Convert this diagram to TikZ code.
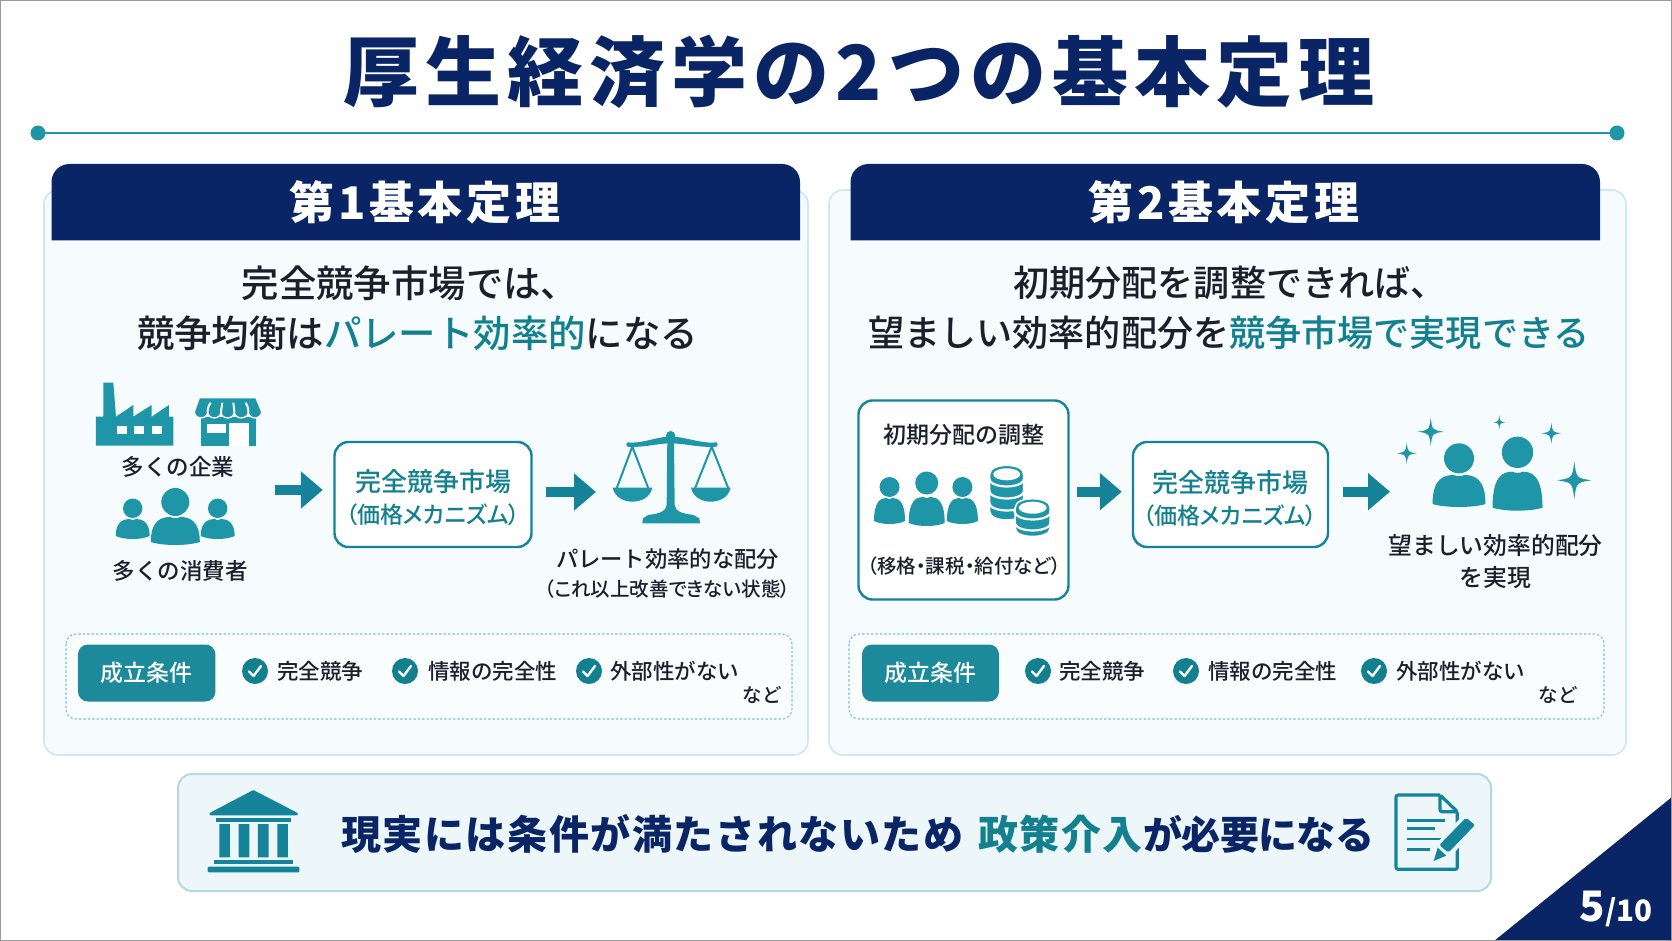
\documentclass[tikz,border=0pt]{standalone}
\usepackage{fontspec}
\usetikzlibrary{arrows.meta,calc}
\setmainfont{Noto Sans CJK JP}
\newfontfamily\jp{Noto Sans CJK JP}
\newfontfamily\jpm{Noto Sans CJK JP Medium}
\definecolor{navy}{HTML}{0A2566}
\definecolor{icon}{HTML}{1E96A8}
\definecolor{hl}{HTML}{12808F}
\definecolor{deep}{HTML}{15849A}
\definecolor{ink}{HTML}{1A1F2B}
\definecolor{panelfill}{HTML}{F6FBFE}
\definecolor{panelline}{HTML}{CFE6F5}
\definecolor{bandfill}{HTML}{EDF7F9}
\definecolor{bandline}{HTML}{B3D9E2}
\definecolor{dashline}{HTML}{7CC3CC}
\definecolor{frameline}{HTML}{9A9A9A}
\newcommand{\fs}[1]{\fontsize{#1}{#1}\selectfont}
\newcommand{\personicon}[6]{%
  \fill[icon] (#1,#2) circle[radius=#3];
  \fill[icon] (#1-#4,#6-3) .. controls (#1-#4,#5+3) and (#1-0.55*#4,#5) .. (#1-0.2*#4,#5)
     .. controls (#1-0.1*#4,#5+1.5) and (#1+0.1*#4,#5+1.5) .. (#1+0.2*#4,#5)
     .. controls (#1+0.55*#4,#5) and (#1+#4,#5+3) .. (#1+#4,#6-3)
     .. controls (#1+0.5*#4,#6+1) and (#1-0.5*#4,#6+1) .. cycle;}
\newcommand{\sparkle}[4]{%
  \fill[icon] (#1,#2-#4) .. controls (#1+0.12*#3,#2-0.12*#4) .. (#1+#3,#2)
     .. controls (#1+0.12*#3,#2+0.12*#4) .. (#1,#2+#4)
     .. controls (#1-0.12*#3,#2+0.12*#4) .. (#1-#3,#2)
     .. controls (#1-0.12*#3,#2-0.12*#4) .. cycle;}
\newcommand{\coinstack}[5]{%
  \filldraw[fill=icon,draw=white,line width=1.5pt] (#1-#3,#2) .. controls (#1-#3,#2-1.33*#4) and (#1+#3,#2-1.33*#4) .. (#1+#3,#2)
     -- (#1+#3,#5) .. controls (#1+#3,#5+1.33*8.5) and (#1-#3,#5+1.33*8.5) .. (#1-#3,#5) -- cycle;
  \fill[white] (#1,#2) ellipse[x radius=#3-3.5,y radius=#4-3];}
\newcommand{\coinline}[4]{%
  \draw[white,line width=2.2pt] (#1-#3-1,#2) .. controls (#1-#3,#2+1.33*#4) and (#1+#3,#2+1.33*#4) .. (#1+#3+1,#2);}
\newcommand{\chkmark}[3]{%
  \node[circle,fill=hl,minimum size=26pt,inner sep=0pt] (#3) at (#1,#2) {};
  \draw[white,line width=2.4pt,line cap=round,line join=round] (#1-6,#2+0.5) -- (#1-1.5,#2+5) -- (#1+6,#2-5);}
\tikzset{
  panel/.style={draw=panelline,line width=1.6pt,fill=panelfill,rounded corners=14pt},
  head/.style={fill=navy},
  headtxt/.style={font=\jp\bfseries\fs{45}\addfontfeature{LetterSpace=8},text=white,inner sep=0pt},
  lead/.style={font=\jpm\fs{37.4},text=ink,inner sep=0pt},
  leadr/.style={font=\jpm\fs{36.1},text=ink,inner sep=0pt},
  lab/.style={font=\jpm\fs{22.5},text=ink,inner sep=0pt},
  cond/.style={font=\jpm\fs{21.5},text=ink,inner sep=0pt,anchor=west},
  box/.style={draw=deep,line width=2.4pt,fill=white,rounded corners=14pt,inner sep=0pt},
  mk/.style={font=\jpm\fs{26},text=hl,inner sep=0pt},
  mks/.style={font=\jpm\fs{23}\addfontfeature{RawFeature=+palt},text=hl,inner sep=0pt},
  blockarrow/.style={draw=deep,line width=10pt,line cap=butt,-{Triangle[length=22pt,width=36pt]}},
  dashbox/.style={draw=dashline,line width=1.1pt,dash pattern=on 2.4pt off 2pt,fill=white,fill opacity=0.55,rounded corners=10pt},
  badge/.style={fill=icon!92!black,rounded corners=10pt,inner sep=0pt,text=white,font=\jpm\fs{23}},
}
\begin{document}
\begin{tikzpicture}[x=1pt,y=-1pt]
\useasboundingbox (0,0) rectangle (1672,941);
\fill[white] (0,0) rectangle (1672,941);
% corner
\fill[navy] (1494,941) -- (1672,797) -- (1672,941) -- cycle;
\draw[frameline,line width=1.5pt] (0.7,0.7) rectangle (1671.3,940.3);
% title
\node[font=\jp\bfseries\fs{76}\addfontfeature{LetterSpace=8},text=navy,inner sep=0pt] (title) at (859,72) {厚生経済学の2つの基本定理};
\coordinate (ruleL) at (38,133);
\coordinate (ruleR) at (1617,133);
\draw[icon,line width=2.2pt] (ruleL) -- (ruleR);
\fill[icon] (ruleL) circle[radius=7.5];
\fill[icon] (ruleR) circle[radius=7.5];
% panels
\draw[panel] (44,190) rectangle (808,755);
\draw[panel] (829,190) rectangle (1626,755);
\fill[head] (51.5,240.5) [rounded corners=18pt] -- (51.5,164) -- (800,164) [sharp corners] -- (800,240.5) -- cycle;
\fill[head] (850.5,240.5) [rounded corners=18pt] -- (850.5,164) -- (1600,164) [sharp corners] -- (1600,240.5) -- cycle;
\node[headtxt] (h1) at (425,202) {第1基本定理};
\node[headtxt] (h2) at (1224,202) {第2基本定理};
% lead text
\node[lead] (l1a) at (410,283) {完全競争市場では、};
\node[lead] (l1b) at (417.5,333) {競争均衡は\textcolor{hl}{パレート効率的}になる};
\node[leadr] (l2a) at (1230,283) {初期分配を調整できれば、};
\node[leadr] (l2b) at (1229,333) {望ましい効率的配分を\textcolor{hl}{競争市場で実現できる}};
% factory
\begin{scope}[shift={(80,370)},x=0.3333pt,y=-0.3333pt]
\fill[icon] (48,227) -- (48,140) -- (70,140) -- (70,38) -- (100,38) -- (108,140) -- (160,105) -- (160,140) -- (215,105) -- (215,140) -- (267,105) -- (267,140) -- (280,140) -- (280,227) -- cycle;
\fill[white] (110,167) rectangle (140,191);
\fill[white] (163,167) rectangle (193,191);
\fill[white] (217,167) rectangle (247,191);
\end{scope}
% shop
\begin{scope}[shift={(180,380)},x=0.3333pt,y=-0.3333pt]
\fill[icon] (62,110) rectangle (228,197);
\fill[white] (80,133) rectangle (137,160);
\fill[white] (148,128) rectangle (208,197);
\filldraw[fill=icon,draw=white,line width=1.3pt] (58,53) -- (228,53) -- (245,95)
  .. controls (245,120) and (205,120) .. (205,95)
  .. controls (205,120) and (163,120) .. (163,95)
  .. controls (163,120) and (123,120) .. (123,95)
  .. controls (123,120) and (83,120) .. (83,95)
  .. controls (83,120) and (43,120) .. (43,95) -- cycle;
\draw[white,line width=2pt] (83,95) .. controls (84,82) .. (92,68) (123,95) -- (127,68) (163,95) -- (160,68) (205,95) .. controls (204,82) .. (197,68);
\end{scope}
\node[lab] (firms) at (178,466.5) {多くの企業};
\personicon{132.7}{508.3}{9.7}{17}{519}{539}
\personicon{175.3}{502}{14}{24.5}{517}{545}
\personicon{217.7}{508.3}{9.7}{17}{519}{539}
\node[lab] (cons) at (180,570.5) {多くの消費者};
% market 1
\node[box,minimum width=197pt,minimum height=105pt] (market1) at (433,494.5) {};
\node[mk] (m1a) at (433,482) {完全競争市場};
\node[mks] (m1b) at (433,515) {（価格メカニズム）};
\coordinate (a1s) at (275,490);
\coordinate (a2e) at (596,492);
\draw[blockarrow,shorten >=10.5pt] (a1s) -- (a1s -| market1.west);
\draw[blockarrow,shorten <=13pt] (a2e -| market1.east) -- (a2e);
% scales
\begin{scope}[shift={(600,420)},x=0.3333pt,y=-0.3333pt]
\draw[icon,line width=2pt] (97,80) -- (50,205) (97,80) -- (145,205) (335,80) -- (285,205) (335,80) -- (385,205);
\fill[icon] (82,67) .. controls (130,72) and (165,50) .. (212,50) .. controls (259,50) and (300,72) .. (350,67) .. controls (354,72) and (354,76) .. (350,80) .. controls (300,84) and (254,70) .. (212,70) .. controls (170,70) and (130,84) .. (82,80) .. controls (78,76) and (78,72) .. cycle;
\fill[icon] (212,47) circle[radius=14];
\fill[icon] (202,55) -- (222,55) -- (224,255) .. controls (226,275) and (245,280) .. (280,285) -- (298,295) -- (300,310) -- (127,310) -- (129,295) -- (145,285) .. controls (180,280) and (198,275) .. (200,255) -- cycle;
\fill[icon] (38,203) -- (157,203) .. controls (150,235) and (120,245) .. (97,245) .. controls (75,245) and (45,235) .. cycle;
\fill[icon] (273,203) -- (392,203) .. controls (385,235) and (355,245) .. (332,245) .. controls (310,245) and (280,235) .. cycle;
\end{scope}
\node[lab,font=\jpm\fs{22.3}] (pareto) at (667.5,559) {パレート効率的な配分};
\node[font=\jpm\fs{19.5}\addfontfeature{RawFeature=+palt},text=ink,inner sep=0pt] (paretos) at (667.5,589) {（これ以上改善できない状態）};
% conditions 1
\draw[dashbox] (66,634) rectangle (792,719);
\node[badge,minimum width=137.5pt,minimum height=57pt] (b1) at (146.7,673) {成立条件};
\chkmark{255}{671}{c1a}
\node[cond] (t1a) at (277,671.5) {完全競争};
\chkmark{405}{671}{c1b}
\node[cond] (t1b) at (428,671.5) {情報の完全性};
\chkmark{589}{671}{c1c}
\node[cond] (t1c) at (610,671.5) {外部性がない};
\node[font=\jpm\fs{19.5},text=ink,inner sep=0pt] (t1d) at (762,694.5) {など};
% adjust box
\node[box,minimum width=210pt,minimum height=199pt] (adj) at (963.5,500) {};
\node[font=\jpm\fs{23},text=ink,inner sep=0pt] (adja) at (964,435) {初期分配の調整};
\node[font=\jpm\fs{19.5}\addfontfeature{RawFeature=+palt},text=ink,inner sep=0pt] (adjb) at (964,566) {（移格・課税・給付など）};
\personicon{889.5}{487}{10}{15.5}{498}{524}
\personicon{926.7}{483}{11.5}{18}{497}{526}
\personicon{962.4}{487}{10}{15.5}{498}{524}
\coinstack{1006.7}{474.3}{17}{9}{511.5}
\coinline{1006.7}{478}{17}{8.5}
\coinline{1006.7}{490}{17}{8.5}
\coinline{1006.7}{502}{17}{8.5}
\coinstack{1032.7}{507.7}{17.5}{9}{528}
\coinline{1032.7}{511}{17.5}{8.5}
\coinline{1032.7}{522}{17.5}{8.5}
% market 2
\node[box,minimum width=195pt,minimum height=105pt] (market2) at (1230.5,494.5) {};
\node[mk] (m2a) at (1230,482.5) {完全競争市場};
\node[mks] (m2b) at (1230,516) {（価格メカニズム）};
\coordinate (a3y) at (1076,491.7);
\coordinate (a4e) at (1390,491.7);
\draw[blockarrow,shorten <=7.5pt,shorten >=10pt] (adj.east |- a3y) -- (market2.west |- a3y);
\draw[blockarrow,shorten <=13.5pt] (market2.east |- a4e) -- (a4e);
% happy people
\personicon{1459}{458.3}{15}{26.5}{475}{507}
\personicon{1517.5}{452.3}{15.7}{25}{471.7}{510.7}
\sparkle{1430.7}{431.7}{13}{14}
\sparkle{1406.7}{453.3}{10}{10.5}
\sparkle{1499.3}{422.3}{6}{7}
\sparkle{1551.3}{433.3}{10}{10.5}
\sparkle{1574.3}{480.3}{17}{19}
\node[font=\jpm\fs{23.8},text=ink,inner sep=0pt] (want1) at (1495.6,545) {望ましい効率的配分};
\node[font=\jpm\fs{23.8},text=ink,inner sep=0pt] (want2) at (1495.6,578) {を実現};
% conditions 2
\draw[dashbox] (849,634) rectangle (1604,719);
\node[badge,minimum width=137pt,minimum height=57pt] (b2) at (930.5,673) {成立条件};
\chkmark{1038}{671}{c2a}
\node[cond] (t2a) at (1059,671.5) {完全競争};
\chkmark{1186}{671}{c2b}
\node[cond] (t2b) at (1208,671.5) {情報の完全性};
\chkmark{1374}{671}{c2c}
\node[cond] (t2c) at (1396,671.5) {外部性がない};
\node[font=\jpm\fs{19.5},text=ink,inner sep=0pt] (t2d) at (1558,694.5) {など};
% bottom band
\draw[draw=bandline,fill=bandfill,line width=2pt,rounded corners=14pt] (178,774) rectangle (1491,891);
\begin{scope}[shift={(190,780)},x=0.3333pt,y=-0.3333pt]
\fill[deep,rounded corners=1pt] (190,30) -- (325,100) -- (322,106) -- (60,106) -- (57,100) -- cycle;
\fill[deep] (78,115) rectangle (303,125);
\fill[deep] (88,132) rectangle (120,232) (146,132) rectangle (178,232) (204,132) rectangle (236,232) (262,132) rectangle (294,232);
\fill[deep] (73,240) rectangle (308,253);
\fill[deep,rounded corners=1pt] (53,260) rectangle (328,277);
\end{scope}
\node[font=\jp\bfseries\fs{40}\addfontfeature{LetterSpace=4},text=navy,inner sep=0pt,anchor=west] (bt1) at (341,834) {現実には条件が満たされないため};
\node[font=\jp\bfseries\fs{40}\addfontfeature{LetterSpace=3.5},text=hl,inner sep=0pt,anchor=west] (bt2) at (978,834) {政策介入};
\node[font=\jp\bfseries\fs{39}\addfontfeature{LetterSpace=-1.5},text=navy,inner sep=0pt,anchor=west] (bt3) at (1143,834) {が必要になる};
\begin{scope}[shift={(1380,780)},x=0.3333pt,y=-0.3333pt]
\draw[deep,line width=3.2pt,line join=round,rounded corners=2pt] (180,45) -- (60,45) -- (48,45) -- (48,268) -- (232,268) -- (232,95) -- (180,45) -- (180,95) -- (232,95);
\draw[deep,line width=2.6pt] (82,122) -- (195,122) (82,146) -- (165,146) (82,177) -- (185,177) (82,208) -- (150,208);
\fill[bandfill] (255,100) -- (300,130) -- (195,250) -- (150,258) -- (160,200) -- cycle;
\fill[deep,rounded corners=2pt] (258,113) -- (285,135) -- (205,218) -- (178,195) -- cycle;
\fill[deep] (173,203) -- (199,227) -- (161,243) -- cycle;
\end{scope}
% page number
\node[text=white,inner sep=0pt,anchor=base east] (pg) at (1653,921) {\jp\bfseries\fs{42}5\jpm\fs{29.5}/10};
\end{tikzpicture}
\end{document}
